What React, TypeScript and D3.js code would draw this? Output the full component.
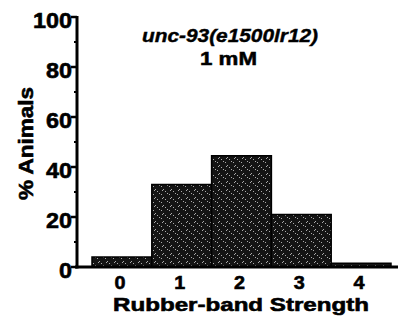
import React from "react";
import * as d3 from "d3";

const categories = ["0", "1", "2", "3", "4"];
const values = [4, 33, 44.5, 21, 1.5];
const yTicks = [0, 20, 40, 60, 80, 100];
const yMinorTicks = [10, 30, 50, 70, 90];
const title = "unc-93(e1500lr12)";
const subtitle = "1 mM";
const xLabel = "Rubber-band Strength";
const yLabel = "% Animals";

const W = 399;
const H = 323;
const FONT = "'Liberation Sans', Arial, Helvetica, sans-serif";

const heavy = { fontFamily: FONT, fontWeight: "bold" as const, fill: "#000", stroke: "#000", strokeWidth: 0.6 };

export default function App() {
  const y = d3.scaleLinear().domain([0, 100]).range([267, 17]);
  const x = d3.scaleBand<string>().domain(categories).range([92, 391]).paddingInner(0).paddingOuter(0);
  const axisX = 77;
  const dots: [number, number][] = [
    [1, 2], [5, 7], [3, 5], [7, 1], [2, 6],
  ];
  return (
    <svg width={W} height={H} style={{ position: "absolute", left: 0, top: 0, background: "#fff" }}>
      <defs>
        <pattern id="stip" width={8} height={8} patternUnits="userSpaceOnUse">
          <rect width={8} height={8} fill="#141414" />
          {dots.map(([a, b], i) => (
            <rect key={i} x={a} y={b} width={1} height={1} fill="#aaa" />
          ))}
        </pattern>
      </defs>
      {values.map((v, i) => {
        const x0 = x(categories[i])!;
        const top = y(v);
        return (
          <rect
            key={i}
            x={x0}
            y={top}
            width={x.bandwidth()}
            height={y(0) - top}
            fill="url(#stip)"
            stroke="#000"
            strokeWidth={1.5}
          />
        );
      })}
      <line x1={axisX} x2={axisX} y1={y(100) - 1} y2={y(0) + 1.5} stroke="#000" strokeWidth={3} />
      {yTicks.map((t) => (
        <g key={t}>
          <line x1={axisX - 6} x2={axisX} y1={y(t)} y2={y(t)} stroke="#000" strokeWidth={2.5} />
          <text
            x={72}
            y={y(t) + 11}
            textAnchor="end"
            fontSize={22}
            textLength={13 * String(t).length}
            lengthAdjust="spacingAndGlyphs"
            {...heavy}
          >
            {t}
          </text>
        </g>
      ))}
      {yMinorTicks.map((t) => (
        <line key={t} x1={axisX - 3} x2={axisX} y1={y(t)} y2={y(t)} stroke="#000" strokeWidth={2} />
      ))}
      <line x1={axisX - 2} x2={398} y1={y(0)} y2={y(0)} stroke="#000" strokeWidth={3} />
      {categories.map((c) => (
        <text
          key={c}
          x={x(c)! + x.bandwidth() / 2 - 2}
          y={289}
          textAnchor="middle"
          fontSize={19}
          textLength={11}
          lengthAdjust="spacingAndGlyphs"
          {...heavy}
        >
          {c}
        </text>
      ))}
      <text x={113} y={310.5} fontSize={19} textLength={256} lengthAdjust="spacingAndGlyphs" {...heavy}>
        {xLabel}
      </text>
      <text
        transform={`translate(33,200) rotate(-90)`}
        fontSize={21}
        textLength={113}
        lengthAdjust="spacingAndGlyphs"
        {...heavy}
      >
        {yLabel}
      </text>
      <text
        x={142}
        y={42}
        fontSize={18}
        fontStyle="italic"
        textLength={176}
        lengthAdjust="spacingAndGlyphs"
        {...heavy}
        strokeWidth={0.4}
      >
        {title}
      </text>
      <text x={200} y={65} fontSize={18} textLength={57} lengthAdjust="spacingAndGlyphs" {...heavy} strokeWidth={0.5}>
        {subtitle}
      </text>
    </svg>
  );
}
